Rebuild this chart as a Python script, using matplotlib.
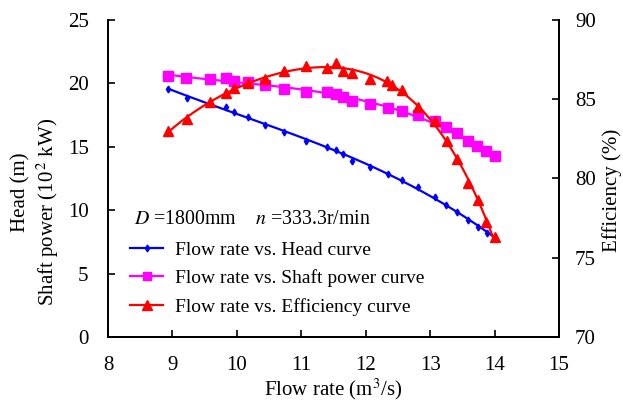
import numpy as np
import matplotlib
matplotlib.use("Agg")
import matplotlib.pyplot as plt
from matplotlib.lines import Line2D

# Datos
q_head = [8.93, 9.23, 9.59, 9.83, 9.96, 10.17, 10.44, 10.73, 11.07, 11.40, 11.54, 11.65,
          11.78, 12.07, 12.35, 12.56, 12.81, 13.07, 13.25, 13.42, 13.59, 13.75, 13.88, 14.00]
head = [19.53, 18.87, 18.43, 18.11, 17.74, 17.37, 16.72, 16.14, 15.48, 15.01, 14.75, 14.41,
        13.90, 13.43, 12.83, 12.38, 11.85, 11.02, 10.41, 9.88, 9.23, 8.70, 8.23, 7.86]

q_power = [8.93, 9.21, 9.59, 9.83, 9.96, 10.17, 10.44, 10.73, 11.07, 11.40, 11.54, 11.65,
           11.78, 12.07, 12.34, 12.56, 12.81, 13.08, 13.24, 13.42, 13.58, 13.73, 13.86, 14.00]
power = [20.58, 20.45, 20.32, 20.43, 20.21, 20.09, 19.87, 19.56, 19.32, 19.32, 19.14, 18.95,
         18.64, 18.35, 18.06, 17.82, 17.51, 17.03, 16.56, 16.09, 15.48, 15.04, 14.65, 14.25]

q_eff = [8.93, 9.23, 9.59, 9.83, 9.96, 10.17, 10.44, 10.73, 11.07, 11.40, 11.54, 11.65,
         11.78, 12.07, 12.33, 12.41, 12.56, 12.81, 13.08, 13.26, 13.42, 13.58, 13.75, 13.86, 14.00]
eff = [83.0, 83.73, 84.85, 85.41, 85.69, 86.0, 86.28, 86.78, 87.12, 86.99, 87.27, 86.76,
       86.68, 86.26, 86.15, 85.90, 85.58, 84.53, 83.65, 82.37, 81.23, 79.70, 78.64, 77.24, 76.29]

x_ticks = [8, 9, 10, 11, 12, 13, 14, 15]
left_ticks = [0, 5, 10, 15, 20, 25]
right_ticks = [70, 75, 80, 85, 90]

plt.rcParams['font.family'] = ['Liberation Serif', 'DejaVu Serif']
plt.rcParams['mathtext.fontset'] = 'stix'
plt.rcParams['font.size'] = 15


def trend(q, v, deg=3):
    # Linea de tendencia suave como en la figura original
    c = np.polyfit(q, v, deg)
    xs = np.linspace(min(q), max(q), 200)
    return xs, np.polyval(c, xs)


fig = plt.figure(figsize=(6.23, 4.03), dpi=100)
ax = fig.add_axes([0.1734, 0.1638, 0.7239, 0.7866])
ax2 = ax.twinx()

# Altura
xs, ys = trend(q_head, head, 3)
ax.plot(xs, ys, color='#0000FF', lw=1.6)
ax.plot(q_head, head, 'd', color='#0000FF', ms=3.5)

# Potencia en el eje
xs, ys = trend(q_power, power, 3)
ax.plot(xs, ys, color='#FF00FF', lw=1.6)
ax.plot(q_power, power, 's', color='#FF00FF', ms=6.5)

# Eficiencia
xs, ys = trend(q_eff, eff, 4)
ax2.plot(xs, ys, color='#FF0000', lw=1.6)
ax2.plot(q_eff, eff, '^', color='#FF0000', ms=7.5)

ax.set_xlim(8, 15)
ax.set_ylim(0, 25)
ax2.set_ylim(70, 90)
ax.set_xticks(x_ticks)
ax.set_yticks(left_ticks)
ax2.set_yticks(right_ticks)

for a in (ax, ax2):
    a.spines['top'].set_visible(False)
    a.tick_params(direction='in', length=5, width=1.2, labelsize=15)
    for s in a.spines.values():
        s.set_linewidth(1.3)
ax.tick_params(axis='x', pad=14)
ax.tick_params(axis='y', pad=14)
ax2.tick_params(axis='y', pad=11.5)

ax.set_xlabel('Flow rate (m$^3$/s)', fontsize=15, labelpad=1)
fig.text(21 / 623, 1 - 192 / 403, 'Head (m)', rotation=90, fontsize=15,
         ha='center', va='center')
fig.text(48 / 623, 1 - 212 / 403, 'Shaft power (10$^{\\,2}$ kW)', rotation=90,
         fontsize=15, ha='center', va='center')
fig.text(612 / 623, 1 - 190 / 403, 'Efficiency (%)', rotation=90, fontsize=15,
         ha='center', va='center')

ax.text(8.40, 9.3, '$D$ =1800mm    $n$ =333.3r/min', fontsize=14.3, va='center')

handles = [
    Line2D([], [], color='#0000FF', lw=1.6, marker='d', ms=3.5),
    Line2D([], [], color='#FF00FF', lw=1.6, marker='s', ms=6),
    Line2D([], [], color='#FF0000', lw=1.6, marker='^', ms=7),
]
labels = ['Flow rate vs. Head curve',
          'Flow rate vs. Shaft power curve',
          'Flow rate vs. Efficiency curve']
ax.legend(handles, labels, loc='upper left', bbox_to_anchor=(0.0315, 0.327),
          frameon=False, fontsize=14, handlelength=1.7, handletextpad=0.62,
          labelspacing=0.55, borderaxespad=0)

fig.savefig('out.png', dpi=100)
